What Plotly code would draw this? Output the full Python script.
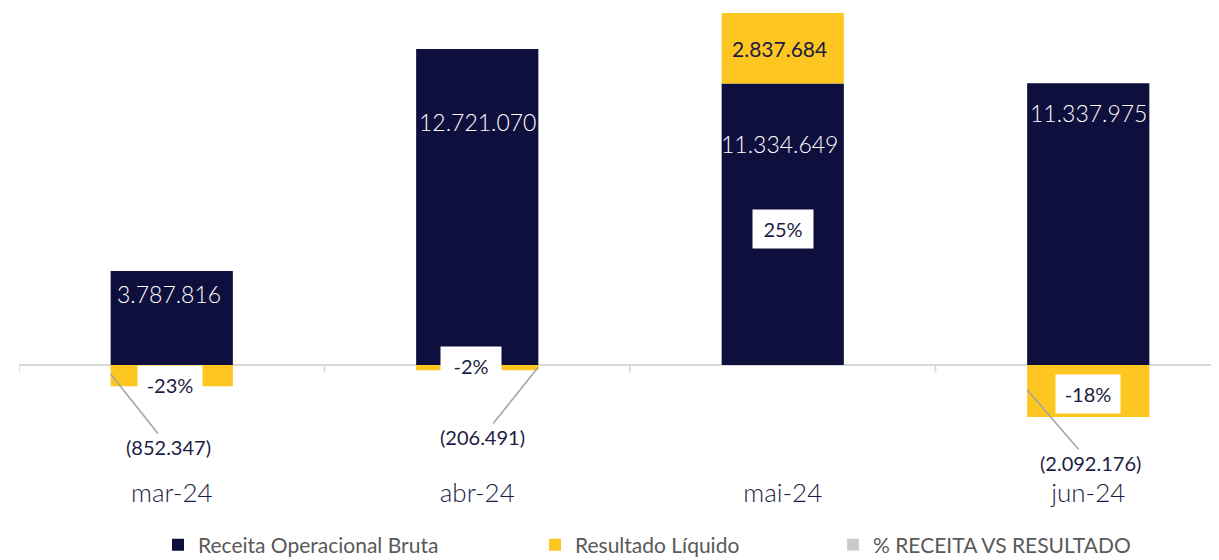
import plotly.graph_objects as go

# ---- data ----
categorias = ["mar-24", "abr-24", "mai-24", "jun-24"]
receita = [3787816, 12721070, 11334649, 11337975]
resultado = [-852347, -206491, 2837684, -2092176]
pct = [round(r / v * 100) for r, v in zip(resultado, receita)]

# ---- label placement (layout, not data) ----
receita_lbl_y = [2.86e6, 9.78e6, 8.90e6, 10.14e6]
receita_lbl_dx = [-0.01, 0.0, -0.01, 0.0]
pct_lbl_pos = [(-0.005, -0.80e6), (-0.02, -0.02e6), (0.0, 5.48e6), (0.0, -1.15e6)]
neg_anchor = {0: (-0.2, -0.36e6, 58, 73), 1: (1.2, -0.08e6, -56, 70), 3: (-0.2 + 3, -1.0e6, 63, 73)}

NAVY = "#0E0F3D"
YELLOW = "#FEC620"
GRAY = "#C9C9C9"
TXT = "#1C1C44"

def fmt(v):
    s = f"{abs(v):,}".replace(",", ".")
    return f"({s})" if v < 0 else s

fig = go.Figure()
fig.add_trace(go.Bar(x=list(range(4)), y=receita, name="Receita Operacional Bruta",
                     marker=dict(color=NAVY, line=dict(width=0)), legend="legend"))
fig.add_trace(go.Bar(x=list(range(4)), y=resultado, name="Resultado Líquido",
                     marker=dict(color=YELLOW, line=dict(width=0)), legend="legend2"))
fig.add_trace(go.Bar(x=list(range(4)), y=[None] * 4, name="% RECEITA VS RESULTADO",
                     marker=dict(color=GRAY), legend="legend3"))

ann = []
for i, v in enumerate(receita):
    ann.append(dict(x=i + receita_lbl_dx[i], y=receita_lbl_y[i], text=fmt(v), showarrow=False,
                    font=dict(family="Lato", size=23, color="white", weight=300),
                    xref="x", yref="y"))
for i, v in enumerate(resultado):
    if v >= 0:
        ann.append(dict(x=i - 0.01, y=receita[i] + v / 2, text=fmt(v),
                        showarrow=False, font=dict(family="Lato", size=21, color=TXT, weight=400),
                        xref="x", yref="y"))
    else:
        px_, py_, ax_, ay_ = neg_anchor[i]
        ann.append(dict(x=px_, y=py_, text=fmt(v), showarrow=True, arrowhead=0,
                        arrowwidth=1.6, arrowcolor="#A6A6A6", ax=ax_, ay=ay_,
                        font=dict(family="Lato", size=20, color=TXT, weight=400),
                        xref="x", yref="y"))
for i, p in enumerate(pct):
    x_, y_ = pct_lbl_pos[i]
    ann.append(dict(x=i + x_, y=y_, text=f"{p}%", showarrow=False, bgcolor="white",
                    width=58 if abs(p) < 10 or p > 0 else 62, height=36,
                    font=dict(family="Lato", size=20, color=TXT, weight=400),
                    xref="x", yref="y"))

shapes = [dict(type="line", xref="paper", yref="y", x0=0, x1=1, y0=0, y1=0,
               line=dict(color="#D9D9D9", width=1.8), layer="below")]
for t in [-0.5, 0.5, 1.5, 2.5]:
    shapes.append(dict(type="line", xref="x", yref="y", x0=t, x1=t, y0=0, y1=-0.30e6,
                       line=dict(color="#D9D9D9", width=1.8)))

# page body has an 8px margin -> figure is 1211x552 placed at (8, 8)
px_per_unit = 24.84 / 1e6
plot_h = 467
y_top = (365 - 8) / 24.84 * 1e6
y_bot = y_top - plot_h / px_per_unit

leg = dict(orientation="h", yanchor="middle", y=-(545 - 475) / plot_h, xanchor="left",
           font=dict(family="Lato", size=21, color="#595959", weight=400),
           bgcolor="rgba(0,0,0,0)", itemwidth=30, tracegroupgap=0)

fig.update_layout(
    width=1211, height=552,
    margin=dict(l=11, r=0, t=0, b=552 - plot_h, autoexpand=False),
    paper_bgcolor="white", plot_bgcolor="white",
    barmode="relative", bargap=0.6,
    xaxis=dict(range=[-0.5, 3.428], tickvals=list(range(4)), ticktext=categorias,
               showgrid=False, zeroline=False, showline=False, ticks="", automargin=False,
               tickfont=dict(family="Lato", size=26, color=TXT, weight=300)),
    yaxis=dict(range=[y_bot, y_top], visible=False, automargin=False),
    annotations=ann, shapes=shapes,
    legend=dict(leg, x=(172 - 33) / 1200),
    legend2=dict(leg, x=(549 - 33) / 1200),
    legend3=dict(leg, x=(847 - 33) / 1200),
    showlegend=True,
)

fig.write_html("out.html")
